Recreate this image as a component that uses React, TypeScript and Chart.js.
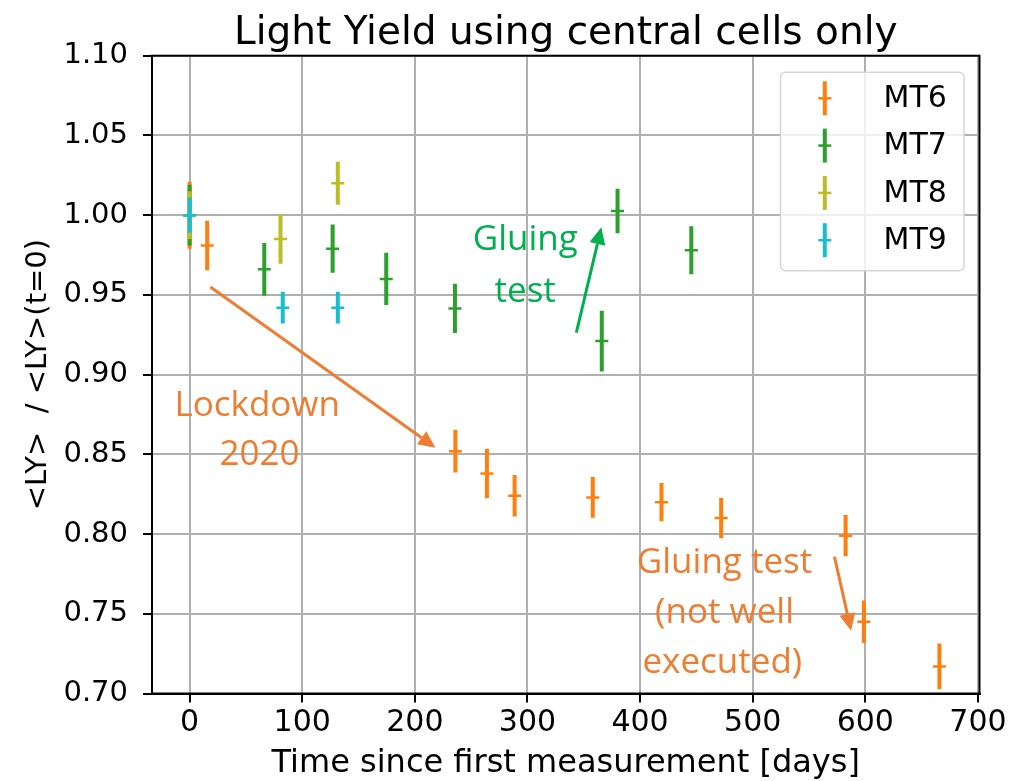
import React, { useEffect, useRef } from 'react';
import { Chart, registerables } from 'chart.js';

Chart.register(...registerables);

// ---------- data ----------
const TITLE = 'Light Yield using central cells only';
const X_LABEL = 'Time since first measurement [days]';
const Y_LABEL = '<LY>  / <LY>(t=0)';
const X_TICKS = [0, 100, 200, 300, 400, 500, 600, 700];
const Y_TICKS = [0.7, 0.75, 0.8, 0.85, 0.9, 0.95, 1.0, 1.05, 1.1];
const X_MIN = -33.4;
const X_MAX = 701.4;
const Y_MIN = 0.7;
const Y_MAX = 1.1;

const SERIES_NAMES = ['MT6', 'MT7', 'MT8', 'MT9'];
const SERIES_COLORS = ['#ff7f0e', '#2ca02c', '#bcbd22', '#17becf'];

const MT6_DAYS = [0, 15.6, 236, 264, 288.6, 358, 419, 472, 582.5, 598.7, 665.8];
const MT6_LY = [1.0, 0.981, 0.852, 0.838, 0.824, 0.823, 0.82, 0.81, 0.799, 0.745, 0.717];
const MT6_ERR = [0.021, 0.0155, 0.0134, 0.0155, 0.013, 0.0128, 0.012, 0.0127, 0.0129, 0.0134, 0.0144];

const MT7_DAYS = [0, 66.3, 127, 174.6, 235.6, 366, 380, 445.5];
const MT7_LY = [1.0, 0.966, 0.979, 0.96, 0.9415, 0.921, 1.0026, 0.978];
const MT7_ERR = [0.019, 0.0165, 0.0151, 0.0164, 0.0154, 0.019, 0.014, 0.015];

const MT8_DAYS = [0, 80.7, 131.6];
const MT8_LY = [1.0, 0.985, 1.02];
const MT8_ERR = [0.015, 0.0155, 0.0135];

const MT9_DAYS = [0, 82.7, 131.6];
const MT9_LY = [1.0, 0.942, 0.942];
const MT9_ERR = [0.011, 0.01, 0.01];

// annotations (data coordinates)
const ORANGE_NOTE = '#ED7D31';
const GREEN_NOTE = '#00B050';
const NOTE_TEXTS = [
  { text: 'Lockdown', x: 60, y: 0.8741, color: ORANGE_NOTE },
  { text: '2020', x: 62, y: 0.8434, color: ORANGE_NOTE },
  { text: 'Gluing', x: 298, y: 0.9781, color: GREEN_NOTE },
  { text: 'test', x: 298, y: 0.9455, color: GREEN_NOTE },
  { text: 'Gluing test', x: 475, y: 0.7756, color: ORANGE_NOTE },
  { text: '(not well', x: 475, y: 0.7443, color: ORANGE_NOTE },
  { text: 'executed)', x: 473, y: 0.7129, color: ORANGE_NOTE },
];
const NOTE_ARROWS = [
  { x0: 18.5, y0: 0.9549, x1: 218.3, y1: 0.8542, color: ORANGE_NOTE },
  { x0: 343.4, y0: 0.9263, x1: 365.6, y1: 0.9924, color: GREEN_NOTE },
  { x0: 572.6, y0: 0.7858, x1: 587.4, y1: 0.7394, color: ORANGE_NOTE },
];

const SERIES = [
  { days: MT6_DAYS, ly: MT6_LY, err: MT6_ERR },
  { days: MT7_DAYS, ly: MT7_LY, err: MT7_ERR },
  { days: MT8_DAYS, ly: MT8_LY, err: MT8_ERR },
  { days: MT9_DAYS, ly: MT9_LY, err: MT9_ERR },
];

const AXIS_FONT = 'DejaVu Sans';
const NOTE_FONT = '"Open Sans"';

// ---------- plugins ----------
const errorBarPlugin = {
  id: 'errorBars',
  beforeDatasetDraw(chart: any, args: any) {
    const ds = chart.data.datasets[args.index];
    const errs: number[] = ds.errors;
    if (!errs) return;
    const { ctx, chartArea } = chart;
    const xs = chart.scales.x;
    const ys = chart.scales.y;
    ctx.save();
    ctx.beginPath();
    ctx.rect(chartArea.left, chartArea.top, chartArea.right - chartArea.left, chartArea.bottom - chartArea.top);
    ctx.clip();
    ctx.strokeStyle = ds.borderColor;
    ctx.lineWidth = 4;
    ctx.lineCap = 'butt';
    ds.data.forEach((p: any, i: number) => {
      const px = xs.getPixelForValue(p.x);
      const top = ys.getPixelForValue(p.y + errs[i]);
      const bot = ys.getPixelForValue(p.y - errs[i]);
      ctx.beginPath();
      ctx.moveTo(px, top);
      ctx.lineTo(px, bot);
      ctx.stroke();
    });
    ctx.restore();
  },
};

function drawArrow(ctx: CanvasRenderingContext2D, x0: number, y0: number, x1: number, y1: number, color: string) {
  const ang = Math.atan2(y1 - y0, x1 - x0);
  const headLen = 17;
  const headW = 8;
  const bx = x1 - headLen * Math.cos(ang);
  const by = y1 - headLen * Math.sin(ang);
  ctx.save();
  ctx.strokeStyle = color;
  ctx.fillStyle = color;
  ctx.lineWidth = 3;
  ctx.beginPath();
  ctx.moveTo(x0, y0);
  ctx.lineTo(bx, by);
  ctx.stroke();
  ctx.beginPath();
  ctx.moveTo(x1, y1);
  ctx.lineTo(bx + headW * Math.sin(ang), by - headW * Math.cos(ang));
  ctx.lineTo(bx - headW * Math.sin(ang), by + headW * Math.cos(ang));
  ctx.closePath();
  ctx.fill();
  ctx.restore();
}

const decorPlugin = {
  id: 'decor',
  afterDraw(chart: any) {
    const { ctx, chartArea } = chart;
    const xs = chart.scales.x;
    const ys = chart.scales.y;
    const { left, right, top, bottom } = chartArea;

    // frame (all four spines)
    ctx.save();
    ctx.strokeStyle = '#000';
    ctx.lineWidth = 2;
    ctx.strokeRect(left, top, right - left, bottom - top);
    ctx.restore();

    // title
    ctx.save();
    ctx.fillStyle = '#000';
    ctx.font = `39px "${AXIS_FONT}"`;
    ctx.textAlign = 'center';
    ctx.textBaseline = 'alphabetic';
    ctx.fillText(TITLE, (left + right) / 2, 44);
    ctx.restore();

    // annotations
    ctx.save();
    ctx.font = `35px ${NOTE_FONT}`;
    ctx.textAlign = 'center';
    ctx.textBaseline = 'alphabetic';
    NOTE_TEXTS.forEach((n) => {
      ctx.fillStyle = n.color;
      ctx.fillText(n.text, xs.getPixelForValue(n.x), ys.getPixelForValue(n.y));
    });
    ctx.restore();
    NOTE_ARROWS.forEach((a) => {
      drawArrow(
        ctx,
        xs.getPixelForValue(a.x0),
        ys.getPixelForValue(a.y0),
        xs.getPixelForValue(a.x1),
        ys.getPixelForValue(a.y1),
        a.color
      );
    });

    // legend
    const bw = 183.5;
    const bh = 198.5;
    const bx = right - 15.5 - bw;
    const by = top + 16.6;
    ctx.save();
    ctx.beginPath();
    if ((ctx as any).roundRect) (ctx as any).roundRect(bx, by, bw, bh, 5);
    else ctx.rect(bx, by, bw, bh);
    ctx.fillStyle = 'rgba(255,255,255,0.8)';
    ctx.fill();
    ctx.strokeStyle = '#d6d6d6';
    ctx.lineWidth = 1.5;
    ctx.stroke();
    chart.data.datasets.forEach((ds: any, i: number) => {
      const cy = by + 26 + i * 47.3;
      const mx = bx + 44.3;
      ctx.strokeStyle = ds.borderColor;
      ctx.lineWidth = 4;
      ctx.beginPath();
      ctx.moveTo(mx, cy - 17);
      ctx.lineTo(mx, cy + 17);
      ctx.stroke();
      ctx.lineWidth = 2.5;
      ctx.beginPath();
      ctx.moveTo(mx - 6.5, cy);
      ctx.lineTo(mx + 6.5, cy);
      ctx.stroke();
      ctx.fillStyle = '#000';
      ctx.font = `30px "${AXIS_FONT}"`;
      ctx.textAlign = 'left';
      ctx.textBaseline = 'middle';
      ctx.fillText(ds.label, bx + 103, cy + 1);
    });
    ctx.restore();
  },
};

// ---------- component ----------
export default function App() {
  const ref = useRef<HTMLCanvasElement>(null);

  useEffect(() => {
    const canvas = ref.current;
    if (!canvas) return;

    const datasets = SERIES.map((s, k) => ({
      label: SERIES_NAMES[k],
      data: s.days.map((d, i) => ({ x: d, y: s.ly[i] })),
      errors: s.err,
      borderColor: SERIES_COLORS[k],
      backgroundColor: SERIES_COLORS[k],
      pointStyle: 'line',
      pointRadius: 6.5,
      pointHoverRadius: 6.5,
      pointBorderWidth: 2.5,
      showLine: false,
      order: SERIES.length - 1 - k,
    }));

    const tickFont = { family: AXIS_FONT, size: 29 };

    const chart = new Chart(canvas, {
      type: 'scatter',
      data: { datasets } as any,
      plugins: [errorBarPlugin, decorPlugin],
      options: {
        animation: false,
        responsive: false,
        devicePixelRatio: 1,
        layout: { padding: { left: 0, top: 55.7, right: 40.5, bottom: 0 } },
        plugins: {
          legend: { display: false },
          tooltip: { enabled: false },
          title: { display: false },
        },
        scales: {
          x: {
            type: 'linear',
            min: X_MIN,
            max: X_MAX,
            afterBuildTicks: (scale: any) => {
              scale.ticks = X_TICKS.map((v) => ({ value: v }));
            },
            afterFit: (scale: any) => {
              scale.height = 781 - 693.5;
            },
            ticks: {
              font: { family: AXIS_FONT, size: 30 },
              color: '#000',
              padding: 3,
              maxRotation: 0,
              autoSkip: false,
              callback: (v: any) => String(v),
            },
            grid: {
              color: '#b0b0b0',
              lineWidth: 2,
              tickColor: '#000',
              tickLength: 9,
              tickWidth: 2,
            } as any,
            border: { color: '#000', width: 2 },
            title: {
              display: true,
              text: X_LABEL,
              color: '#000',
              font: { family: AXIS_FONT, size: 32, lineHeight: 1.1 },
              padding: { top: 0, bottom: 0 },
            },
          },
          y: {
            type: 'linear',
            min: Y_MIN,
            max: Y_MAX,
            afterBuildTicks: (scale: any) => {
              scale.ticks = Y_TICKS.map((v) => ({ value: v }));
            },
            afterFit: (scale: any) => {
              scale.width = 152;
            },
            ticks: {
              font: tickFont,
              color: '#000',
              padding: 15,
              autoSkip: false,
              callback: (v: any) => Number(v).toFixed(2),
            },
            grid: {
              color: '#b0b0b0',
              lineWidth: 2,
              tickColor: '#000',
              tickLength: 9,
              tickWidth: 2,
            } as any,
            border: { color: '#000', width: 2 },
            title: {
              display: true,
              text: Y_LABEL,
              color: '#000',
              font: { family: AXIS_FONT, size: 29, lineHeight: 1.2 },
              padding: { top: 20.6, bottom: 0 },
            },
          },
        },
      } as any,
    });

    if ((document as any).fonts && (document as any).fonts.load) {
      Promise.all([
        (document as any).fonts.load(`35px ${NOTE_FONT}`),
        (document as any).fonts.load(`29px "${AXIS_FONT}"`),
      ])
        .then(() => chart.update())
        .catch(() => {});
    }

    return () => chart.destroy();
  }, []);

  return (
    <div style={{ position: 'absolute', left: 0, top: 0, width: 1020, height: 781, background: '#fff' }}>
      <canvas ref={ref} width={1020} height={781} style={{ display: 'block', width: 1020, height: 781 }} />
    </div>
  );
}
